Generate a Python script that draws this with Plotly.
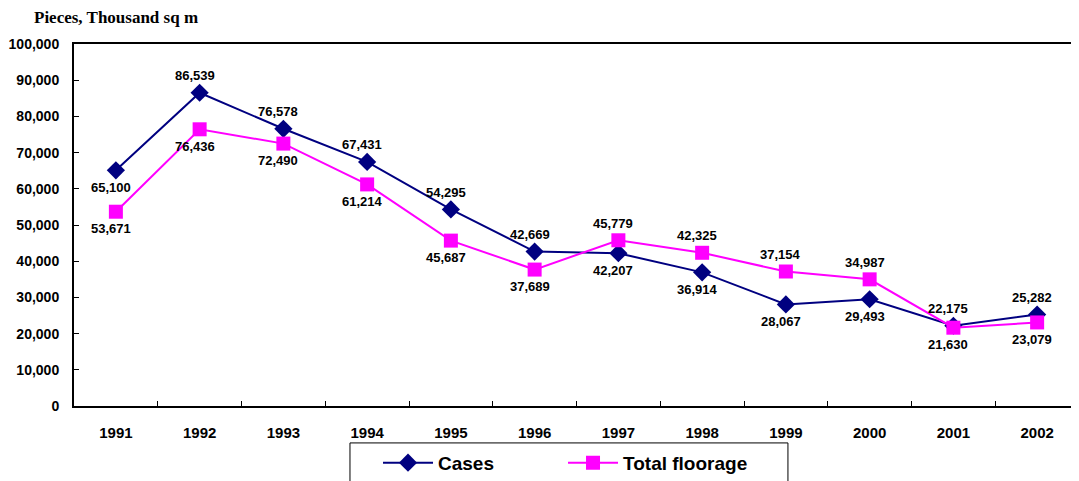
import plotly.graph_objects as go

years = ["1991", "1992", "1993", "1994", "1995", "1996",
         "1997", "1998", "1999", "2000", "2001", "2002"]
cases = [65100, 86539, 76578, 67431, 54295, 42669,
         42207, 36914, 28067, 29493, 22175, 25282]
floorage = [53671, 76436, 72490, 61214, 45687, 37689,
            45779, 42325, 37154, 34987, 21630, 23079]
# label placement: 1 = above the point, -1 = below
cases_side = [-1, 1, 1, 1, 1, 1, -1, -1, -1, -1, 1, 1]
floor_side = [-1, -1, -1, -1, -1, -1, 1, 1, 1, 1, -1, -1]

NAVY = "#000080"
MAGENTA = "#FF00FF"
FONT = "Liberation Sans"

fig = go.Figure()
fig.add_trace(go.Scatter(x=years, y=cases, name="<b>Cases</b>", mode="lines+markers",
                         line=dict(color=NAVY, width=2),
                         marker=dict(symbol="diamond", size=14, color=NAVY)))
fig.add_trace(go.Scatter(x=years, y=floorage, name="<b>Total floorage</b>", mode="lines+markers",
                         line=dict(color=MAGENTA, width=2),
                         marker=dict(symbol="square", size=14, color=MAGENTA)))

annotations = []
for vals, sides in ((cases, cases_side), (floorage, floor_side)):
    for i, (v, s) in enumerate(zip(vals, sides)):
        annotations.append(dict(x=i, y=v, text=f"<b>{v:,}</b>", showarrow=False,
                                xshift=-5, yshift=17 * s,
                                font=dict(family=FONT, size=13, color="black")))

annotations.append(dict(text="<b>Pieces, Thousand sq m</b>", xref="paper", yref="paper",
                        x=-0.042, y=1.0, yshift=27, xanchor="left", yanchor="middle",
                        showarrow=False,
                        font=dict(family="Liberation Serif", size=17, color="black")))

# the page body adds 8px around the figure, margins allow for it
fig.update_layout(
    width=1079, height=481,
    margin=dict(l=66, r=8, t=36, b=83, autoexpand=False),
    plot_bgcolor="white", paper_bgcolor="white",
    font=dict(family=FONT, size=15, color="black"),
    annotations=annotations,
    showlegend=True,
    legend=dict(orientation="h", x=0.3025, y=-0.157, xanchor="left", yanchor="middle",
                font=dict(family=FONT, size=19, color="black"),
                itemwidth=50, entrywidth=120, bgcolor="rgba(0,0,0,0)"),
    shapes=[dict(type="rect", xref="paper", yref="paper",
                 x0=0.2746, x1=0.7104, y0=-0.102, y1=-0.30,
                 line=dict(color="black", width=1))],
)
fig.update_xaxes(type="category", range=[-0.5, 11.5], showline=True, mirror=True,
                 linecolor="black", linewidth=2, showgrid=False, automargin=False,
                 ticks="inside", ticklen=5, tickson="boundaries", tickcolor="black",
                 ticklabelstandoff=12, tickfont=dict(family=FONT, size=15),
                 tickvals=years, ticktext=[f"<b>{y}</b>" for y in years])
yticks = list(range(0, 100001, 10000))
fig.update_yaxes(range=[0, 100000], showline=True, mirror=True,
                 linecolor="black", linewidth=2, showgrid=False, zeroline=False,
                 automargin=False,
                 ticks="inside", ticklen=5, tickcolor="black",
                 ticklabelstandoff=10, tickfont=dict(family=FONT, size=14),
                 tickvals=yticks, ticktext=[f"<b>{v:,}</b>" for v in yticks])

fig.write_html("out.html")
